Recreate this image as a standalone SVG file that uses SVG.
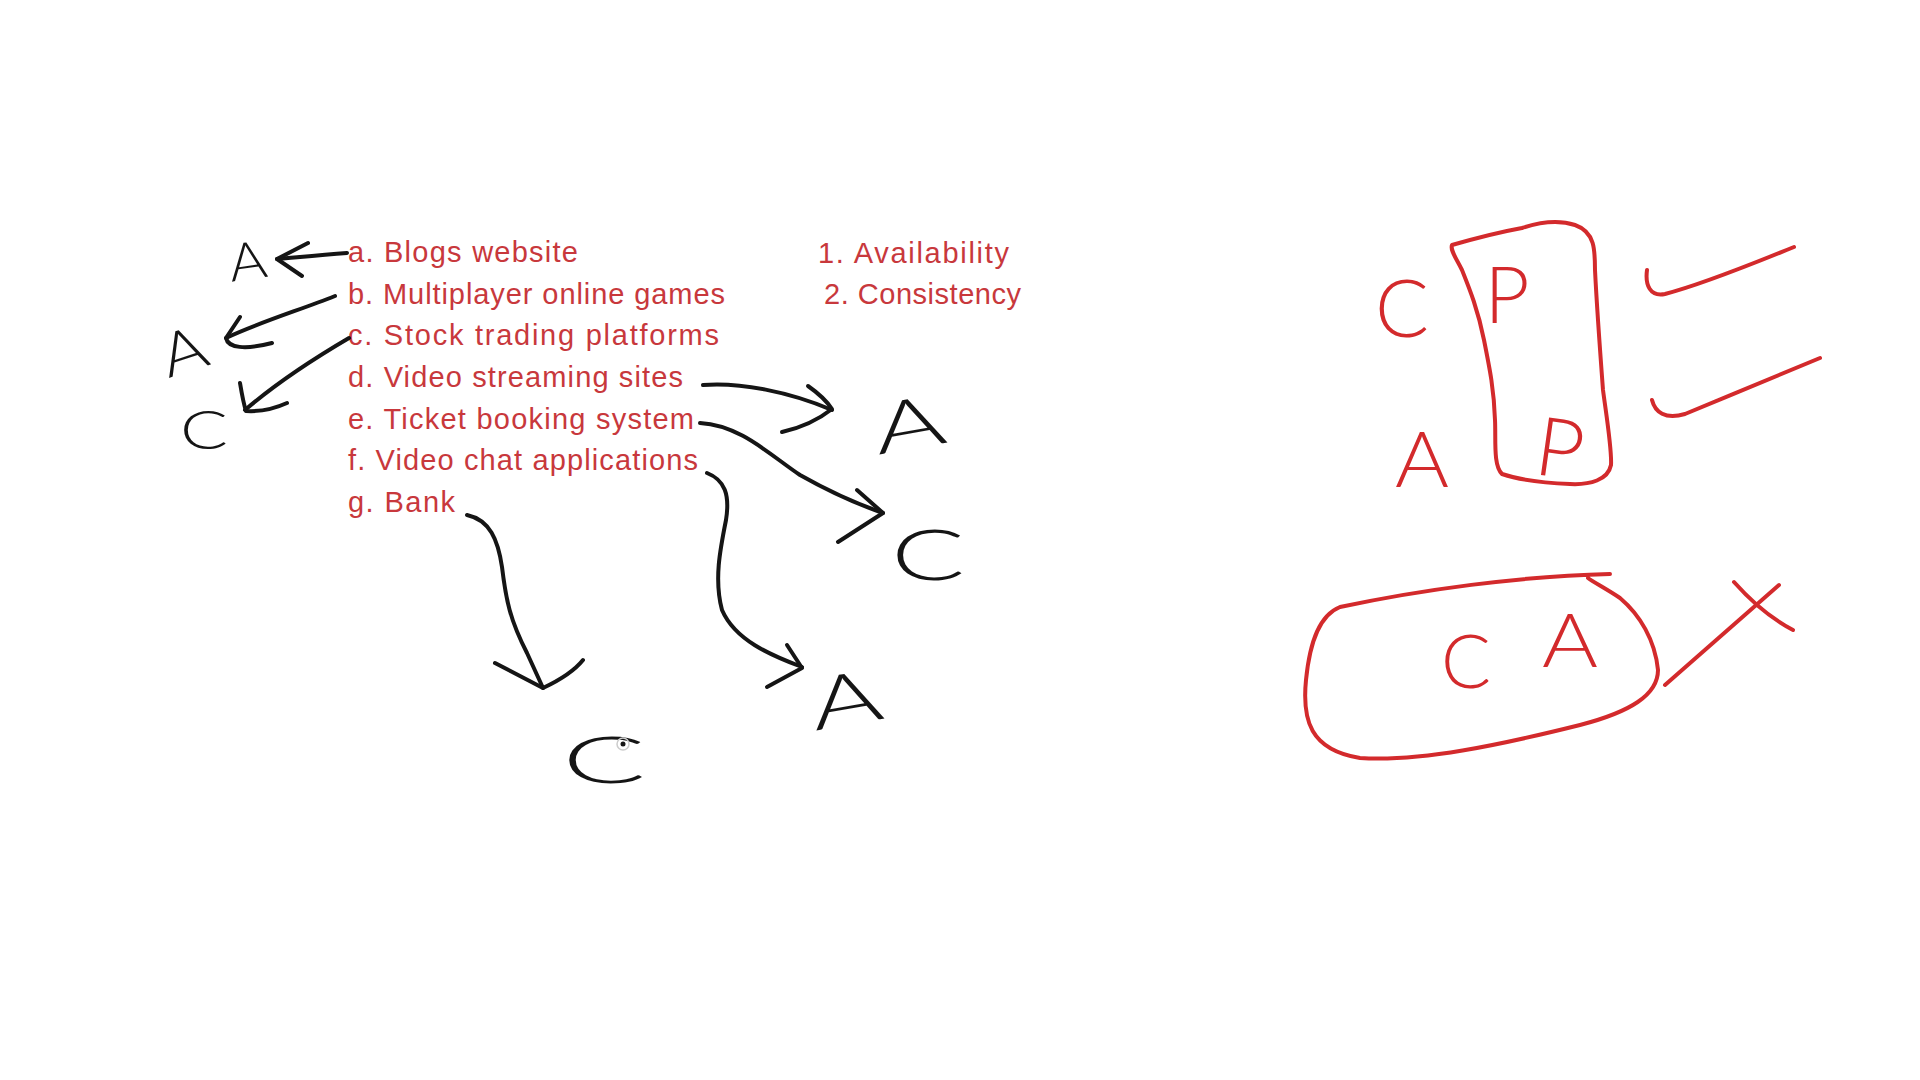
<svg xmlns="http://www.w3.org/2000/svg" width="1920" height="1080" viewBox="0 0 1920 1080">
<style>
.bg{fill:#ffffff}
.item{font-family:"Liberation Sans","Open Sans",sans-serif;font-size:29px;fill:#c8383c}
.ink{fill:none;stroke:#151515;stroke-width:4;stroke-linecap:round;stroke-linejoin:round}
.red{fill:none;stroke:#d32a2c;stroke-width:4;stroke-linecap:round;stroke-linejoin:round}
.hb{font-family:Lato,"Liberation Sans",sans-serif;font-weight:300;fill:#151515;text-anchor:middle}
.hr{font-family:Lato,"Liberation Sans",sans-serif;font-weight:300;fill:#d32a2c;text-anchor:middle}
</style>
<rect class="bg" x="0" y="0" width="1920" height="1080"/>

<g id="list">
  <text id="item-a" class="item" x="348" y="262" textLength="230">a. Blogs website</text>
  <text id="item-b" class="item" x="348" y="304" textLength="377">b. Multiplayer online games</text>
  <text id="item-c" class="item" x="348" y="345" textLength="371">c. Stock trading platforms</text>
  <text id="item-d" class="item" x="348" y="387" textLength="335">d. Video streaming sites</text>
  <text id="item-e" class="item" x="348" y="429" textLength="346">e. Ticket booking system</text>
  <text id="item-f" class="item" x="348" y="470" textLength="350">f. Video chat applications</text>
  <text id="item-g" class="item" x="348" y="512" textLength="107">g. Bank</text>
</g>

<g id="legend">
  <text id="legend-1" class="item" x="818" y="263" textLength="191">1. Availability</text>
  <text id="legend-2" class="item" x="824" y="304" textLength="197">2. Consistency</text>
</g>

<g id="answers">
  <g id="ans-a"><text class="hb" font-size="52" transform="translate(250,279) rotate(-8)" textLength="38" lengthAdjust="spacingAndGlyphs">A</text></g>
  <g id="ans-b"><text class="hb" font-size="60" transform="translate(184,352) rotate(-18)" y="20" textLength="46" lengthAdjust="spacingAndGlyphs">A</text></g>
  <g id="ans-c"><text class="hb" font-size="54" x="204" y="449" textLength="48" lengthAdjust="spacingAndGlyphs">C</text></g>
  <g id="ans-d"><text class="hb" font-size="70" transform="translate(909,424) rotate(-10)" y="25" textLength="72" lengthAdjust="spacingAndGlyphs">A</text></g>
  <g id="ans-e"><text class="hb" font-size="70" x="928" y="580" textLength="74" lengthAdjust="spacingAndGlyphs">C</text></g>
  <g id="ans-f"><text class="hb" font-size="72" transform="translate(846,700) rotate(-10)" y="25" textLength="72" lengthAdjust="spacingAndGlyphs">A</text></g>
  <g id="ans-g"><text class="hb" font-size="66" x="604" y="783" textLength="84" lengthAdjust="spacingAndGlyphs">C</text>
    <circle cx="623" cy="744" r="6" fill="none" stroke="#cccccc" stroke-width="1.5"/>
    <circle cx="623" cy="744" r="2.5" fill="#151515"/>
  </g>
</g>

<g id="connectors">
  <path class="ink" d="M347,253 C320,255 300,257 277,259"/>
  <path class="ink" d="M308,243 L277,259 L302,276"/>
  <path class="ink" d="M335,296 C300,310 260,322 226,338"/>
  <path class="ink" d="M240,317 L226,338 C228,348 245,350 272,343"/>
  <path class="ink" d="M349,338 C320,355 280,380 245,410"/>
  <path class="ink" d="M240,383 C242,395 244,405 246,411 C262,412 276,408 287,403"/>
  <path class="ink" d="M703,385 C740,382 790,392 832,410"/>
  <path class="ink" d="M808,386 C818,393 826,400 832,409 C818,420 800,428 782,432"/>
  <path class="ink" d="M700,423 C740,425 770,455 800,475 C830,492 860,505 883,513"/>
  <path class="ink" d="M857,490 L883,513 L838,542"/>
  <path class="ink" d="M707,473 C725,480 730,495 726,520 C720,550 714,580 722,610 C735,640 770,655 802,667"/>
  <path class="ink" d="M787,645 L802,668 L767,687"/>
  <path class="ink" d="M467,515 C490,520 498,540 502,567 C506,600 510,620 527,653 L543,688"/>
  <path class="ink" d="M495,663 L543,688 C560,680 575,670 583,660"/>
</g>

<g id="cp-group">
  <path class="red" d="M1452,245 C1480,237 1500,232 1522,228 C1540,222 1560,220 1575,225 C1595,232 1595,250 1595,270 C1597,310 1600,350 1603,390 C1607,420 1612,450 1611,465 C1608,480 1590,485 1570,484 C1545,483 1520,480 1502,474 C1493,465 1496,440 1495,420 C1494,390 1490,370 1484,340 C1478,310 1470,290 1462,270 C1456,258 1450,250 1452,245 Z"/>
  <text class="hr" font-size="80" x="1402" y="337" textLength="54" lengthAdjust="spacingAndGlyphs">C</text>
  <text class="hr" font-size="78" x="1507" y="323">P</text>
  <text class="hr" font-size="82" transform="translate(1556,477) rotate(8)">P</text>
  <text class="hr" font-size="76" x="1422" y="487" textLength="54" lengthAdjust="spacingAndGlyphs">A</text>
  <path class="red" d="M1647,270 C1645,285 1650,297 1665,294 C1700,285 1750,265 1794,247"/>
  <path class="red" d="M1652,400 C1655,412 1665,420 1685,414 C1730,395 1780,375 1820,358"/>
</g>

<g id="ca-group">
  <path class="red" d="M1610,574 C1520,576 1420,590 1340,607 C1320,615 1310,640 1306,680 C1302,720 1310,750 1360,758 C1420,762 1500,745 1580,725 C1630,712 1658,695 1658,670 C1655,640 1640,615 1620,598 C1605,588 1593,582 1588,578"/>
  <text class="hr" font-size="74" x="1466" y="688" textLength="50" lengthAdjust="spacingAndGlyphs">C</text>
  <text class="hr" font-size="74" x="1570" y="667" textLength="56" lengthAdjust="spacingAndGlyphs">A</text>
  <path class="red" d="M1665,685 L1779,585"/>
  <path class="red" d="M1734,582 C1750,600 1770,618 1793,630"/>
</g>
</svg>
